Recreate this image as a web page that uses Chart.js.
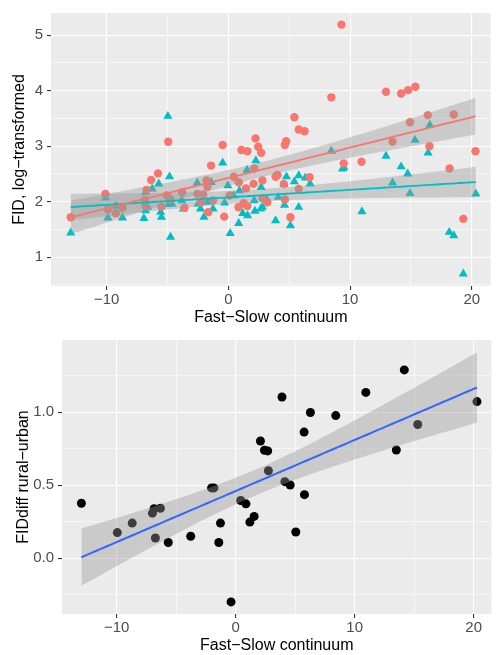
<!DOCTYPE html>
<html>
<head>
<meta charset="utf-8">
<script src="https://cdn.jsdelivr.net/npm/chart.js@4.4.0/dist/chart.umd.min.js"></script>
<style>
  html, body { margin: 0; padding: 0; background: #fff; overflow: hidden; }
  canvas { display: block; }
</style>
</head>
<body>
<canvas id="topChart" width="496" height="327"></canvas>
<canvas id="bottomChart" width="496" height="328"></canvas>
<script>
// top panel, red circles
const redX = [-12.95, -10.1, -9.9, -9.24, -8.7, -6.86, -6.8, -6.72, -6.35, -5.78, -5.5, -5.05, -4.94, -4.77,
  -3.8, -3.6, -2.56, -2.26, -2.07, -1.8, -1.72, -1.66, -1.42, -1.26, -0.47, -0.34, 0.1, 0.45, 0.83, 0.85,
  1.07, 1.26, 1.45, 1.56, 1.56, 2.07, 2.13, 2.23, 2.45, 2.69, 2.8, 2.8, 3.2, 3.88, 4.04, 4.56, 4.64, 4.64,
  4.75, 5.1, 5.42, 5.78, 5.78, 6.26, 6.67, 8.46, 9.29, 9.48, 10.94, 12.95, 13.49, 14.19, 14.76, 14.92,
  15.36, 16.38, 16.52, 18.17, 18.52, 19.3, 20.3];
const redY = [1.72, 2.14, 1.86, 1.79, 1.89, 2.03, 1.92, 2.21, 2.39, 2.51, 1.91, 2.11, 3.08, 2.04,
  2.17, 1.89, 2.14, 1.99, 2.13, 2.38, 2.27, 1.81, 2.65, 2.02, 3.02, 1.73, 2.11, 2.45, 1.9, 2.35,
  2.93, 1.97, 2.24, 2.91, 1.92, 2.32, 2.6, 3.14, 2.99, 2.88, 2.38, 2.06, 1.99, 2.45, 2.48, 2.32, 3.02, 2.04,
  3.09, 1.72, 3.52, 3.3, 2.23, 3.27, 2.44, 3.88, 5.19, 2.69, 2.72, 3.98, 3.08, 3.95, 4.01, 3.43,
  4.07, 3.56, 3.0, 2.6, 3.57, 1.69, 2.91];

// top panel, teal triangles
const tealX = [-12.95, -10.1, -9.9, -9.24, -8.7, -6.94, -6.8, -6.8, -6.64, -6.26, -5.72, -5.56, -5.5, -4.97,
  -4.83, -4.91, -4.75, -4.64, -3.83, -3.69, -2.56, -2.48, -2.29, -2.01, -1.72, -1.4, -1.26, -0.47, -0.31,
  -0.04, 0.15, 0.42, 0.85, 0.91, 1.18, 1.53, 1.58, 2.13, 2.18, 2.26, 2.66, 2.69, 2.8, 3.15, 3.88, 4.1,
  4.56, 4.61, 4.77, 5.1, 5.42, 5.78, 5.78, 6.32, 6.72, 8.46, 9.38, 9.48, 10.97, 12.95, 13.49, 14.19,
  14.73, 14.92, 15.33, 16.41, 16.55, 18.14, 18.52, 19.3, 20.33];
const tealY = [1.44, 2.07, 1.71, 1.92, 1.71, 1.7, 2.17, 1.84, 1.9, 2.23, 2.32, 1.81, 1.72, 3.54,
  2.45, 1.95, 1.36, 1.96, 2.02, 1.87, 2.34, 1.96, 1.87, 1.72, 1.99, 2.35, 1.87, 2.7, 1.98,
  2.29, 1.43, 2.11, 1.61, 2.2, 1.79, 2.57, 1.75, 2.02, 1.83, 2.74, 1.87, 2.26, 1.9, 2.04, 1.66, 2.08,
  2.31, 1.94, 2.45, 1.57, 2.36, 2.47, 1.9, 2.43, 2.32, 2.91, 2.59, 2.62, 1.82, 2.82, 2.34, 2.63,
  2.5, 2.15, 3.11, 2.88, 3.38, 1.45, 1.39, 0.7, 2.14];

// bottom panel
const diffX = [-12.97, -9.95, -8.7, -7.0, -6.86, -6.33, -6.75, -5.67, -3.78, -2.03, -1.83, -1.28, -1.42,
  -0.39, 0.42, 0.86, 1.19, 1.55, 2.08, 2.42, 2.69, 2.75, 3.89, 4.13, 4.58, 5.05, 5.75, 5.78, 6.28,
  8.41, 10.94, 13.5, 14.17, 15.3, 20.28];
const diffY = [0.376, 0.175, 0.24, 0.308, 0.338, 0.342, 0.138, 0.107, 0.15, 0.481, 0.481, 0.24, 0.107,
  -0.3, 0.395, 0.372, 0.247, 0.286, 0.803, 0.739, 0.735, 0.599, 1.104, 0.524, 0.501, 0.179, 0.864, 0.435, 0.998,
  0.977, 1.136, 0.741, 1.29, 0.916, 1.073];

const xMajor = [-10, 0, 10, 20];
const xMinor = [-5, 5, 15];
const topYMajor = [1, 2, 3, 4, 5];
const topYMinor = [0.5, 1.5, 2.5, 3.5, 4.5];
const botYMajor = [0, 0.5, 1];
const botYMinor = [-0.25, 0.25, 0.75, 1.25];

const FONT = '"Liberation Sans", Arial, Helvetica, sans-serif';
const BAND = 'rgba(153,153,153,0.4)';

// least squares line with 95% confidence band, like geom_smooth(method = "lm")
function fitLine(xs, ys, steps) {
    const n = xs.length;
    const mx = xs.reduce((a, b) => a + b, 0) / n;
    const my = ys.reduce((a, b) => a + b, 0) / n;
    let sxx = 0, sxy = 0;
    for (let i = 0; i < n; i++) {
        sxx += (xs[i] - mx) * (xs[i] - mx);
        sxy += (xs[i] - mx) * (ys[i] - my);
    }
    const b = sxy / sxx;
    const a = my - b * mx;
    let sse = 0;
    for (let i = 0; i < n; i++) {
        const r = ys[i] - (a + b * xs[i]);
        sse += r * r;
    }
    const s = Math.sqrt(sse / (n - 2));
    const t = 1.96 + 2.4 / (n - 2);
    const lo = Math.min(...xs), hi = Math.max(...xs);
    const fit = [], upper = [], lower = [];
    for (let k = 0; k < steps; k++) {
        const x = lo + (hi - lo) * k / (steps - 1);
        const yhat = a + b * x;
        const se = s * Math.sqrt(1 / n + (x - mx) * (x - mx) / sxx);
        fit.push({x: x, y: yhat});
        upper.push({x: x, y: yhat + t * se});
        lower.push({x: x, y: yhat - t * se});
    }
    return {fit, upper, lower};
}

const pts = (xs, ys) => xs.map((x, i) => ({x: x, y: ys[i]}));
const minus = v => v < 0 ? '\u2212' + Math.abs(v) : String(v);

const panelBg = {
    id: 'panelBg',
    beforeDraw(chart) {
        const {ctx, chartArea} = chart;
        ctx.save();
        ctx.fillStyle = '#EBEBEB';
        ctx.fillRect(chartArea.left, chartArea.top, chartArea.right - chartArea.left, chartArea.bottom - chartArea.top);
        ctx.restore();
    }
};

function axis(major, minor, min, max, fmt, title, horizontal, size, titlePad, labelPad) {
    const all = major.concat(minor).sort((a, b) => a - b);
    const isMajor = c => c.tick && major.includes(c.tick.value);
    return {
        type: 'linear',
        min: min,
        max: max,
        afterBuildTicks: s => { s.ticks = all.map(v => ({value: v})); },
        afterFit: s => {
            if (horizontal) s.height = size; else s.width = size;
        },
        border: {display: false},
        grid: {
            color: '#FFFFFF',
            lineWidth: c => isMajor(c) ? 1.1 : 0.55,
            tickColor: c => isMajor(c) ? '#333333' : 'rgba(0,0,0,0)',
            tickLength: 4,
            tickWidth: 1.1
        },
        ticks: {
            autoSkip: false,
            maxRotation: 0,
            padding: labelPad,
            color: '#4D4D4D',
            font: {family: FONT, size: 15},
            callback: v => major.includes(v) ? fmt(v) : ''
        },
        title: {
            display: true,
            text: title,
            color: '#000000',
            font: {family: FONT, size: 16},
            padding: titlePad
        }
    };
}

function band(data) {
    return {data: data, showLine: true, pointRadius: 0, borderWidth: 0,
        borderColor: 'rgba(0,0,0,0)', backgroundColor: BAND, fill: '+1', order: 3};
}
function bandEdge(data) {
    return {data: data, showLine: true, pointRadius: 0, borderWidth: 0,
        borderColor: 'rgba(0,0,0,0)', fill: false, order: 3};
}
function fitted(data, color, width) {
    return {data: data, showLine: true, pointRadius: 0, borderColor: color,
        borderWidth: width, fill: false, order: 1};
}

const redFit = fitLine(redX, redY, 80);
const tealFit = fitLine(tealX, tealY, 80);
const diffFit = fitLine(diffX, diffY, 80);

const common = {
    responsive: false,
    animation: false,
    events: [],
    plugins: {legend: {display: false}, tooltip: {enabled: false}}
};

new Chart(document.getElementById('topChart'), {
    type: 'scatter',
    plugins: [panelBg],
    data: {
        datasets: [
            {data: pts(redX, redY), pointStyle: 'circle', pointRadius: 4.2,
                backgroundColor: '#F8766D', borderWidth: 0, order: 5},
            {data: pts(tealX, tealY), pointStyle: 'triangle', pointRadius: 5.3,
                backgroundColor: '#00BFC4', borderWidth: 0, order: 5},
            band(redFit.upper), bandEdge(redFit.lower),
            band(tealFit.upper), bandEdge(tealFit.lower),
            fitted(redFit.fit, '#F8766D', 1.8),
            fitted(tealFit.fit, '#00BFC4', 1.8)
        ]
    },
    options: Object.assign({}, common, {
        layout: {padding: {top: 11, left: 0, right: 0, bottom: 0}},
        scales: {
            x: axis(xMajor, xMinor, -14.57, 21.55, minus, 'Fast\u2212Slow continuum', true, 41, {top: 0, bottom: 0}, 1),
            y: axis(topYMajor, topYMinor, 0.48, 5.40, v => String(v), 'FID, log\u2212transformed', false, 51, {top: 10, bottom: 0}, 4)
        }
    })
});

new Chart(document.getElementById('bottomChart'), {
    type: 'scatter',
    plugins: [panelBg],
    data: {
        datasets: [
            {data: pts(diffX, diffY), pointStyle: 'circle', pointRadius: 4.5,
                backgroundColor: '#000000', borderWidth: 0, order: 5},
            band(diffFit.upper), bandEdge(diffFit.lower),
            fitted(diffFit.fit, '#3366FF', 2)
        ]
    },
    options: Object.assign({}, common, {
        layout: {padding: {top: 11, left: 0, right: 0, bottom: 0}},
        scales: {
            x: axis(xMajor, xMinor, -14.6, 21.5, minus, 'Fast\u2212Slow continuum', true, 41, {top: 0, bottom: 0}, 1),
            y: axis(botYMajor, botYMinor, -0.383, 1.495, v => v.toFixed(1), 'FIDdiff rural\u2212urban', false, 62, {top: 14, bottom: 0}, 4)
        }
    })
});
</script>
</body>
</html>
